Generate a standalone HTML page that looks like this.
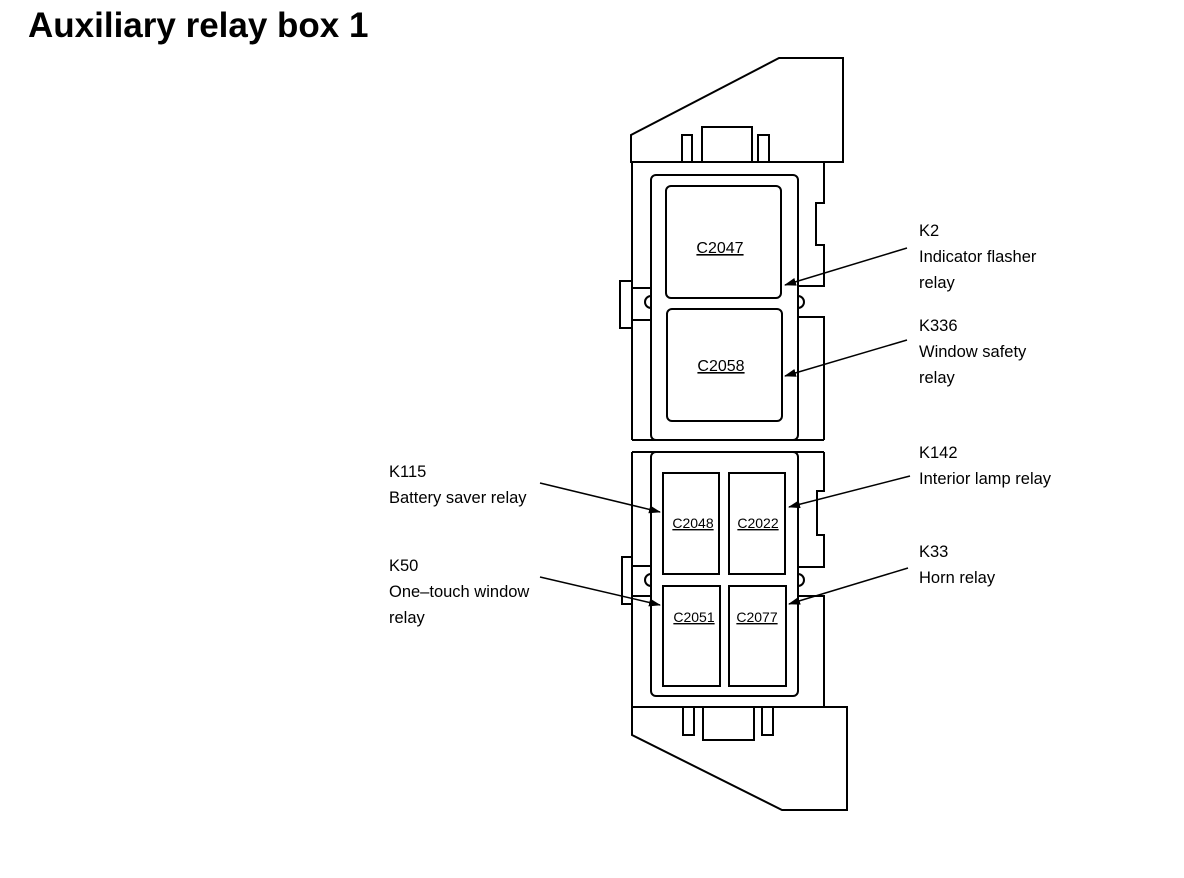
<!DOCTYPE html>
<html><head><style>
body{margin:0;background:#fff;}
svg{display:block}
text{font-family:"Liberation Sans",Arial,sans-serif;}
</style></head><body>
<svg width="1184" height="878" viewBox="0 0 1184 878">
<defs><marker id="a" markerWidth="12" markerHeight="8" refX="11" refY="4" orient="auto" markerUnits="userSpaceOnUse"><path d="M0,0 L12,4 L0,8 Z" fill="#000"/></marker></defs>
<text x="28" y="37" font-size="35" font-weight="bold">Auxiliary relay box 1</text>
<g fill="none" stroke="#000" stroke-width="2">
<path d="M631,162 L631,135 L779,58 L843,58 L843,162 Z"/>
<rect x="702" y="127" width="50" height="35"/>
<rect x="682" y="135" width="10" height="27"/>
<rect x="758" y="135" width="11" height="27"/>
<path d="M632,162 L632,440"/>
<path d="M824,162 L824,203 L816,203 L816,245 L824,245 L824,286 L798,286"/>
<path d="M798,317 L824,317 L824,440"/>
<rect x="620" y="281" width="12" height="47"/>
<path d="M632,288 L651,288 M632,320 L651,320"/>
<path d="M651,296 a6,6 0 0 0 0,12 M798,296 a6,6 0 0 1 0,12"/>
<rect x="651" y="175" width="147" height="265" rx="5"/>
<rect x="666" y="186" width="115" height="112" rx="5"/>
<rect x="667" y="309" width="115" height="112" rx="5"/>
<path d="M632,440 L824,440 M632,452 L824,452"/>
<path d="M632,452 L632,707"/>
<path d="M824,452 L824,491 L817,491 L817,535 L824,535 L824,567 L798,567"/>
<path d="M798,596 L824,596 L824,707"/>
<rect x="622" y="557" width="10" height="47"/>
<path d="M632,566 L651,566 M632,596 L651,596"/>
<path d="M651,574 a6,6 0 0 0 0,12 M798,574 a6,6 0 0 1 0,12"/>
<rect x="651" y="452" width="147" height="244" rx="5"/>
<rect x="663" y="473" width="56" height="101"/>
<rect x="729" y="473" width="56" height="101"/>
<rect x="663" y="586" width="57" height="100"/>
<rect x="729" y="586" width="57" height="100"/>
<path d="M632,707 L847,707 L847,810 L782,810 L632,735 Z"/>
<rect x="703" y="707" width="51" height="33"/>
<rect x="683" y="707" width="11" height="28"/>
<rect x="762" y="707" width="11" height="28"/>
</g>
<g stroke="#000" stroke-width="1.5" marker-end="url(#a)">
<line x1="907" y1="248" x2="785" y2="285"/>
<line x1="907" y1="340" x2="785" y2="376"/>
<line x1="540" y1="483" x2="660" y2="512"/>
<line x1="540" y1="577" x2="660" y2="605"/>
<line x1="910" y1="476" x2="789" y2="507"/>
<line x1="908" y1="568" x2="789" y2="604"/>
</g>
<g font-size="16" text-anchor="middle" text-decoration="underline">
<text x="720" y="253">C2047</text>
<text x="721" y="371">C2058</text>
<text x="693" y="528" font-size="14">C2048</text>
<text x="758" y="528" font-size="14">C2022</text>
<text x="694" y="622" font-size="14">C2051</text>
<text x="757" y="622" font-size="14">C2077</text>
</g>
<g font-size="16.5">
<text x="919" y="236">K2</text>
<text x="919" y="262">Indicator flasher</text>
<text x="919" y="288">relay</text>
<text x="919" y="331">K336</text>
<text x="919" y="357">Window safety</text>
<text x="919" y="383">relay</text>
<text x="919" y="458">K142</text>
<text x="919" y="484">Interior lamp relay</text>
<text x="919" y="557">K33</text>
<text x="919" y="583">Horn relay</text>
<text x="389" y="477">K115</text>
<text x="389" y="503">Battery saver relay</text>
<text x="389" y="571">K50</text>
<text x="389" y="597">One–touch window</text>
<text x="389" y="623">relay</text>
</g>
</svg>
</body></html>
